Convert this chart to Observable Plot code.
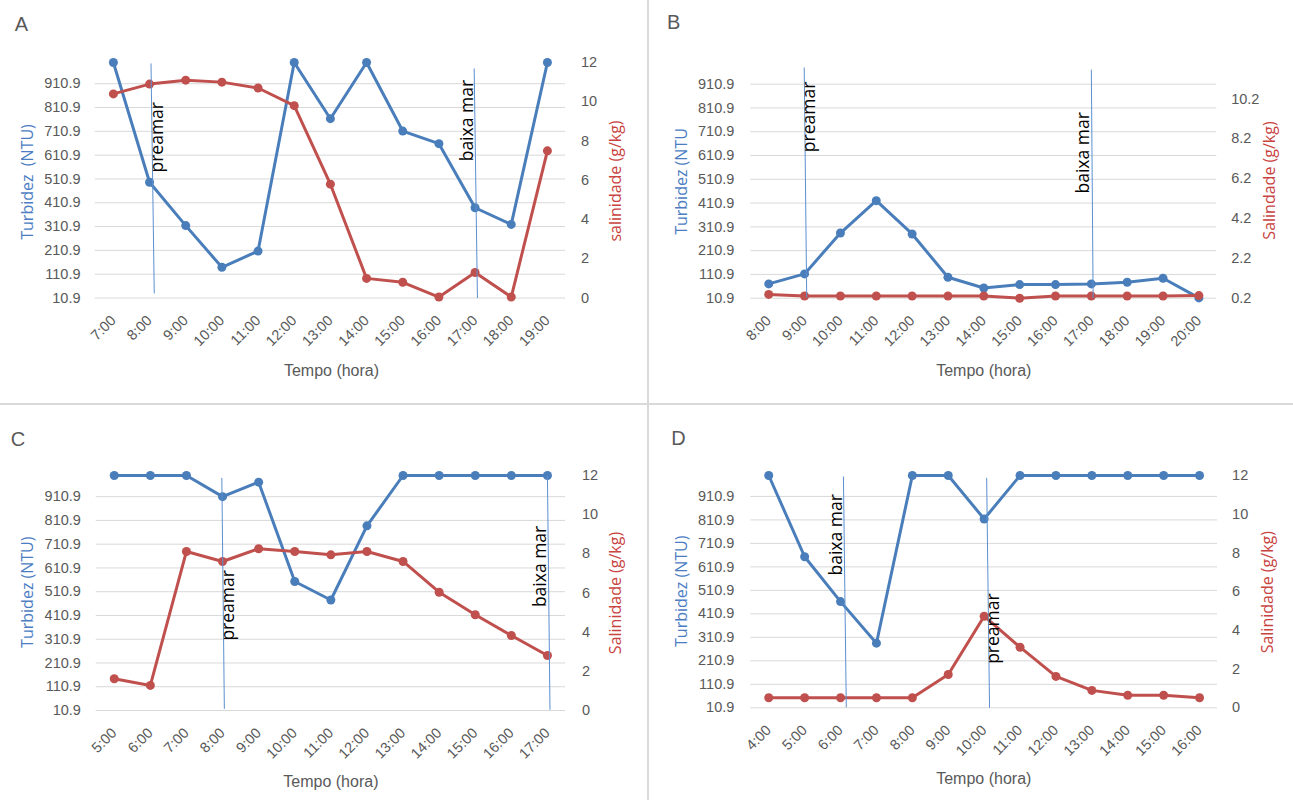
<!DOCTYPE html>
<html>
<head>
<meta charset="utf-8">
<script src="https://cdn.jsdelivr.net/npm/d3@7"></script>
<script src="https://cdn.jsdelivr.net/npm/@observablehq/plot@0.6"></script>
<style>
  body { margin: 0; background: #fff; }
  #wrap { position: relative; width: 1293px; height: 800px; overflow: hidden; background: #fff; }
  .panel { position: absolute; }
  .vdiv { position: absolute; left: 647px; top: 0; width: 2px; height: 800px; background: #d9d9d9; }
  .hdiv { position: absolute; left: 0; top: 403px; width: 1293px; height: 2px; background: #d9d9d9; }
</style>
</head>
<body>
<div id="wrap"></div>
<script>
// ---------- DATA ----------
const leftTicks = [10.9, 110.9, 210.9, 310.9, 410.9, 510.9, 610.9, 710.9, 810.9, 910.9];
const leftDomain = [10.9, 1000];

// Panel A
const hoursA = [7, 8, 9, 10, 11, 12, 13, 14, 15, 16, 17, 18, 19];
const turbA  = [1000, 497, 315, 140, 208, 1000, 764, 1000, 712, 659, 390, 320, 1000];
const salA   = [10.4, 10.9, 11.1, 11.0, 10.7, 9.8, 5.8, 1.0, 0.8, 0.05, 1.3, 0.05, 7.5];
const rightTicksA = [0, 2, 4, 6, 8, 10, 12];
const rightDomainA = [0, 12];

// Panel B
const hoursB = [8, 9, 10, 11, 12, 13, 14, 15, 16, 17, 18, 19, 20];
const turbB  = [71, 113, 285, 421, 281, 99, 54, 68, 68, 71, 78, 95, 12];
const salB   = [0.39, 0.31, 0.31, 0.31, 0.31, 0.31, 0.31, 0.2, 0.31, 0.31, 0.31, 0.31, 0.33];
const rightTicksB = [0.2, 2.2, 4.2, 6.2, 8.2, 10.2];
const rightDomainB = [0.2, 12];

// Panel C
const hoursC = [5, 6, 7, 8, 9, 10, 11, 12, 13, 14, 15, 16, 17];
const turbC  = [1000, 1000, 1000, 911, 972, 554, 476, 788, 1000, 1000, 1000, 1000, 1000];
const salC   = [1.62, 1.28, 8.12, 7.61, 8.26, 8.12, 7.95, 8.12, 7.61, 6.04, 4.89, 3.83, 2.81];
const rightTicksC = [0, 2, 4, 6, 8, 10, 12];
const rightDomainC = [0, 12];

// Panel D
const hoursD = [4, 5, 6, 7, 8, 9, 10, 11, 12, 13, 14, 15, 16];
const turbD  = [1000, 654, 463, 286, 1000, 1000, 815, 1000, 1000, 1000, 1000, 1000, 1000];
const salD   = [0.52, 0.52, 0.52, 0.52, 0.52, 1.72, 4.73, 3.13, 1.62, 0.9, 0.65, 0.65, 0.52];
const rightTicksD = [0, 2, 4, 6, 8, 10, 12];
const rightDomainD = [0, 12];

// Tide annotations (x in hours, y in turbidity units)
const tideLabelsA = ["preamar", "baixa mar"];
const tideTopXA = [8.04, 16.975], tideBotXA = [8.13, 17.065];
const tideTopYA = [996, 975],     tideBotYA = [30, 10.9];
const tideTextXA = [8.36, 16.95], tideTextYA = [538, 585];

const tideLabelsB = ["preamar", "baixa mar"];
const tideTopXB = [8.99, 17.0],  tideBotXB = [9.06, 17.05];
const tideTopYB = [981, 972],    tideBotYB = [14, 10.9];
const tideTextXB = [9.29, 16.94], tideTextYB = [625, 451];

const tideLabelsC = ["preamar", "baixa mar"];
const tideTopXC = [7.98, 17.0],  tideBotXC = [8.05, 17.07];
const tideTopYC = [990, 1000],   tideBotYC = [18, 14];
const tideTextXC = [8.32, 16.95], tideTextYC = [305, 446];

const tideLabelsD = ["baixa mar", "preamar"];
const tideTopXD = [6.08, 10.07], tideBotXD = [6.16, 10.15];
const tideTopYD = [996, 990],    tideBotYD = [13, 10.9];
const tideTextXD = [6.04, 10.42], tideTextYD = [574, 198];

// Texts
const panelLetters = ["A", "B", "C", "D"];
const leftTitles  = ["Turbidez  (NTU)", "Turbidez (NTU", "Turbidez (NTU)", "Turbidez (NTU)"];
const rightTitles = ["salinidade (g/kg)", "Salindade (g/kg)", "Salinidade (g/kg)", "Salinidade (g/kg)"];
const xTitle = "Tempo (hora)";

// ---------- STYLE / LAYOUT ----------
const BLUE = "#4a7ebb", RED = "#c0504d";
const BLUE_T = "#4c7dc3", RED_T = "#c8423e";
const TIDE = "#5b8fd0";
const GREY = "#595959";
const TICK_FONT = "Liberation Sans, Arial, sans-serif";
const TITLE_FONT = "Open Sans, DejaVu Sans, sans-serif";

const panels = [
  { letter: 0, left: 0, top: 0, width: 646, height: 402, mL: 94.8, mR: 81, mT: 62, mB: 104.5,
    hours: hoursA, turb: turbA, sal: salA, rTicks: rightTicksA, rDom: rightDomainA, rFmt: d3.format("d"),
    tide: [tideLabelsA, tideTopXA, tideBotXA, tideTopYA, tideBotYA, tideTextXA, tideTextYA],
    letterPos: [14.3, 30.7], lt: [27.5, 181.5], rt: [615, 180.5], xt: [331, 370], padL: 14.8, padR: 15.5 },
  { letter: 1, left: 646, top: 0, width: 647, height: 402, mL: 104.3, mR: 76.7, mT: 62.5, mB: 104.3,
    hours: hoursB, turb: turbB, sal: salB, rTicks: rightTicksB, rDom: rightDomainB, rFmt: d3.format(".1f"),
    tide: [tideLabelsB, tideTopXB, tideBotXB, tideTopYB, tideBotYB, tideTextXB, tideTextYB],
    letterPos: [20.6, 28], lt: [35, 181], rt: [623.5, 180], xt: [337.3, 370], padL: 16.5, padR: 14.4 },
  { letter: 2, left: 0, top: 404, width: 646, height: 396, mL: 95.7, mR: 81, mT: 71, mB: 90,
    hours: hoursC, turb: turbC, sal: salC, rTicks: rightTicksC, rDom: rightDomainC, rFmt: d3.format("d"),
    tide: [tideLabelsC, tideTopXC, tideBotXC, tideTopYC, tideBotYC, tideTextXC, tideTextYC],
    letterPos: [10.3, 41], lt: [27.8, 187.7], rt: [615.5, 188.5], xt: [330.4, 377.7], padL: 15.3, padR: 16.4 },
  { letter: 3, left: 646, top: 404, width: 647, height: 396, mL: 104.3, mR: 76, mT: 71, mB: 92.7,
    hours: hoursD, turb: turbD, sal: salD, rTicks: rightTicksD, rDom: rightDomainD, rFmt: d3.format("d"),
    tide: [tideLabelsD, tideTopXD, tideBotXD, tideTopYD, tideBotYD, tideTextXD, tideTextYD],
    letterPos: [24.7, 40], lt: [35.5, 186.8], rt: [621.6, 187.7], xt: [337.3, 374.7], padL: 16.5, padR: 14.6 }
];

function at(p, text, x, y, opts) {
  return Plot.text([text], Object.assign({
    frameAnchor: "top-left", dx: x - p.mL, dy: y - p.mT, text: d => d
  }, opts));
}

function makePanel(p) {
  const [L0, L1] = leftDomain;
  const [r0, r1] = p.rDom;
  const toLeft = v => L0 + (v - r0) / (r1 - r0) * (L1 - L0);
  const fromLeft = d => r0 + (d - L0) / (L1 - L0) * (r1 - r0);
  const turbData = p.hours.map((h, i) => ({ h, v: p.turb[i] }));
  const salData = p.hours.map((h, i) => ({ h, v: toLeft(p.sal[i]) }));
  const [labels, tx1, tx2, ty1, ty2, lx, ly] = p.tide;
  const tides = labels.map((l, i) => ({ l, x1: tx1[i], x2: tx2[i], y1: ty1[i], y2: ty2[i], lx: lx[i], ly: ly[i] }));
  const h0 = p.hours[0], hN = p.hours[p.hours.length - 1];

  return Plot.plot({
    width: p.width, height: p.height,
    marginLeft: p.mL, marginRight: p.mR, marginTop: p.mT, marginBottom: p.mB,
    style: { fontFamily: TICK_FONT, background: "transparent", overflow: "visible" },
    x: { type: "linear", domain: [h0 - 0.5, hN + 0.5], axis: null },
    y: { domain: leftDomain },
    marks: [
      Plot.ruleY(leftTicks, { stroke: "#d9d9d9", strokeWidth: 1 }),
      Plot.axisY(leftTicks, { anchor: "left", tickSize: 0, tickPadding: p.padL, label: null,
        tickFormat: d => d.toFixed(1), fontSize: 14.5, color: GREY }),
      Plot.axisY(p.rTicks.map(toLeft), { anchor: "right", tickSize: 0, tickPadding: p.padR, label: null,
        tickFormat: d => p.rFmt(Math.round(fromLeft(d) * 10) / 10), fontSize: 14.5, color: GREY }),
      Plot.text(p.hours, { x: d => d, frameAnchor: "bottom", dy: 20, rotate: -45,
        textAnchor: "end", lineAnchor: "middle", text: d => `${d}:00`, fontSize: 14.5, fill: GREY }),
      Plot.line(turbData, { x: "h", y: "v", stroke: BLUE, strokeWidth: 3 }),
      Plot.dot(turbData, { x: "h", y: "v", r: 4.5, fill: BLUE, stroke: "none" }),
      Plot.line(salData, { x: "h", y: "v", stroke: RED, strokeWidth: 3 }),
      Plot.dot(salData, { x: "h", y: "v", r: 4.5, fill: RED, stroke: "none" }),
      Plot.link(tides, { x1: "x1", y1: "y1", x2: "x2", y2: "y2", stroke: TIDE, strokeWidth: 1 }),
      Plot.text(tides, { x: "lx", y: "ly", text: "l", rotate: -90, textAnchor: "start", lineAnchor: "bottom",
        fontSize: 17.5, fill: "#000", fontFamily: TITLE_FONT }),
      at(p, panelLetters[p.letter], p.letterPos[0], p.letterPos[1],
        { textAnchor: "start", lineAnchor: "bottom", fontSize: 20, fill: GREY, fontFamily: TICK_FONT }),
      at(p, leftTitles[p.letter], p.lt[0], p.lt[1],
        { rotate: -90, textAnchor: "middle", lineAnchor: "middle", fontSize: 16, fill: BLUE_T, fontFamily: TITLE_FONT }),
      at(p, rightTitles[p.letter], p.rt[0], p.rt[1],
        { rotate: -90, textAnchor: "middle", lineAnchor: "middle", fontSize: 16, fill: RED_T, fontFamily: TITLE_FONT }),
      at(p, xTitle, p.xt[0], p.xt[1],
        { textAnchor: "middle", lineAnchor: "middle", fontSize: 16, fill: GREY, fontFamily: TICK_FONT })
    ]
  });
}

const wrap = document.getElementById("wrap");
for (const p of panels) {
  const div = document.createElement("div");
  div.className = "panel";
  div.style.left = p.left + "px";
  div.style.top = p.top + "px";
  div.appendChild(makePanel(p));
  wrap.appendChild(div);
}
const v = document.createElement("div"); v.className = "vdiv"; wrap.appendChild(v);
const h = document.createElement("div"); h.className = "hdiv"; wrap.appendChild(h);
</script>
</body>
</html>
